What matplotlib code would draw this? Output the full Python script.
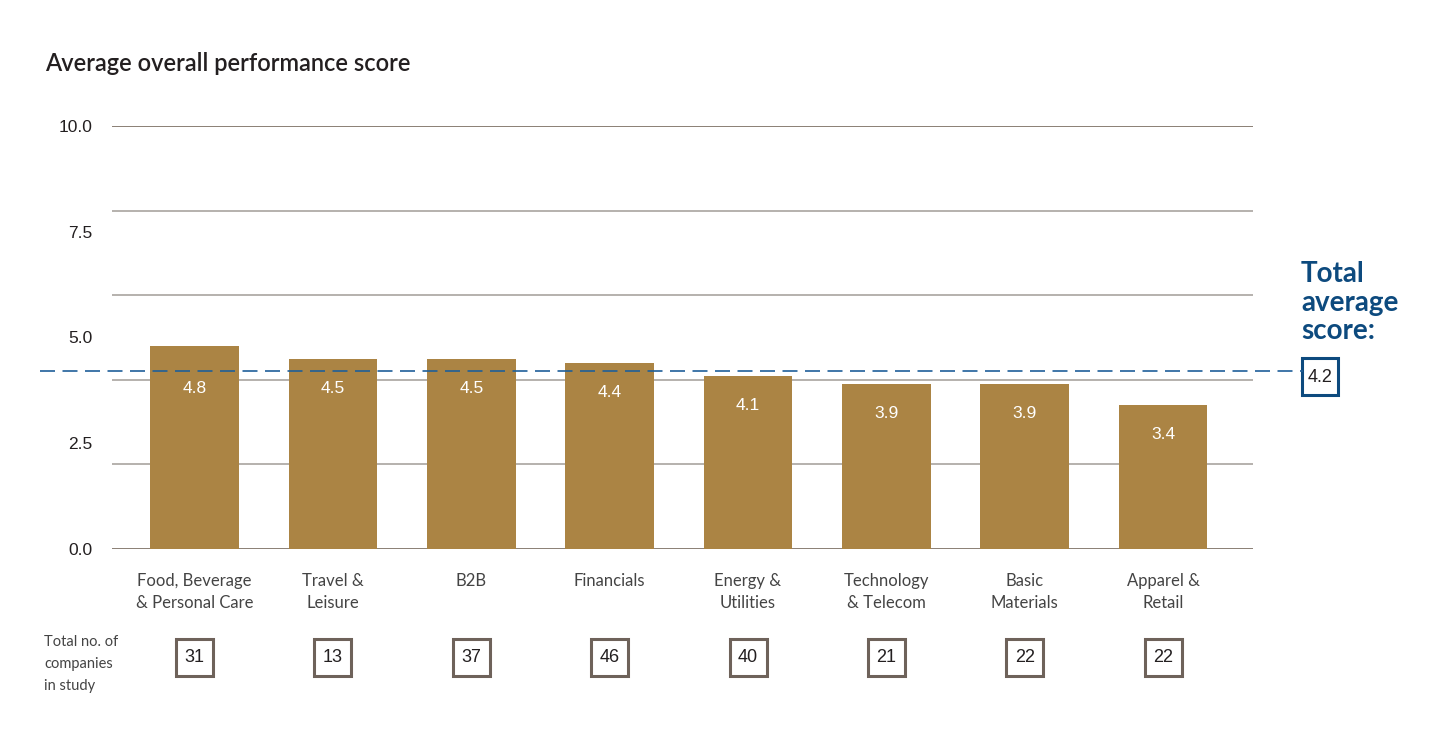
import matplotlib
matplotlib.use("Agg")
import matplotlib.pyplot as plt
from matplotlib.patches import Rectangle
from matplotlib.lines import Line2D
import matplotlib.transforms as mtransforms

plt.rcParams['font.family'] = ['Lato', 'DejaVu Sans']
NUMFONT = ['Liberation Sans', 'DejaVu Sans']

# ---- data ----
categories = [["Food, Beverage", "& Personal Care"], ["Travel &", "Leisure"], ["B2B"],
              ["Financials"], ["Energy &", "Utilities"], ["Technology", "& Telecom"],
              ["Basic", "Materials"], ["Apparel &", "Retail"]]
scores = [4.8, 4.5, 4.5, 4.4, 4.1, 3.9, 3.9, 3.4]
companies = [31, 13, 37, 46, 40, 21, 22, 22]
total_average = 4.2
ytick_values = [0.0, 2.5, 5.0, 7.5, 10.0]
grid_values = [0, 2, 4, 6, 8, 10]

W, H = 1448, 740
fig = plt.figure(figsize=(W / 100, H / 100), dpi=100)
fig.patch.set_facecolor("white")

def fx(px):
    return px / W

def fy(py):
    return 1 - py / H

ax = fig.add_axes([fx(112), fy(549), fx(1253) - fx(112), fy(126) - fy(549)])
ax.set_xlim(-0.597, 7.65)
ax.set_ylim(0, 10)
for s in ax.spines.values():
    s.set_visible(False)
ax.set_xticks([])
ax.set_yticks(ytick_values)
ax.set_yticklabels([f"{v:.1f}" for v in ytick_values], fontsize=12.5, color="#231f20",
                   family=NUMFONT)
ax.tick_params(axis="y", length=0, pad=14)

# gridlines
for g in grid_values:
    col = "#6b5d50" if g in (0, 10) else "#a29c97"
    ax.axhline(g, color=col, lw=1.1, zorder=1)

x = list(range(len(scores)))
bar_color = "#ab8444"
ax.bar(x, scores, width=0.64, color=bar_color, zorder=2)

# value labels
for xi, v in zip(x, scores):
    ax.text(xi, min(v - 0.7, 3.8), f"{v}", ha="center", va="center",
            color="white", fontsize=12.5, family=NUMFONT, zorder=4)

# dashed total average line across figure
blend = mtransforms.blended_transform_factory(fig.transFigure, ax.transData)
ln = Line2D([fx(40), fx(1303)], [total_average, total_average], transform=blend,
            color="#1f5f99", lw=1.2, linestyle=(0, (9, 4.5)), zorder=5)
fig.add_artist(ln)

# category labels and company count boxes
bx = mtransforms.blended_transform_factory(ax.transData, fig.transFigure)
box_w = 37 / ((1253 - 112) / (7.65 + 0.597))
for xi, lines, n in zip(x, categories, companies):
    for k, line in enumerate(lines):
        ax.text(xi, fy(581 + 22 * k), line, transform=bx, ha="center", va="center",
                fontsize=12, color="#444444")
    rect = Rectangle((xi - box_w / 2, fy(676)), box_w, 37 / H, transform=bx,
                     fill=False, edgecolor="#6e625a", lw=2.2, clip_on=False)
    fig.add_artist(rect)
    ax.text(xi, fy(658), str(n), transform=bx, ha="center", va="center",
            fontsize=13, family=NUMFONT, color="#231f20")

# left label
for k, line in enumerate(["Total no. of", "companies", "in study"]):
    fig.text(fx(44), fy(642 + 22 * k), line, ha="left", va="center",
             fontsize=10.5, color="#444444")

# title
fig.text(fx(45), fy(71), "Average overall performance score", ha="left", va="baseline",
         fontsize=17, fontweight="semibold", color="#231f20")

# right side total
blue = "#0d4a7e"
for k, line in enumerate(["Total", "average", "score:"]):
    fig.text(fx(1301), fy(282 + 28.5 * k), line, ha="left", va="baseline",
             fontsize=20, fontweight="bold", color=blue)
fig.add_artist(Rectangle((fx(1302), fy(395)), 36 / W, 37 / H, transform=fig.transFigure,
                         fill=False, edgecolor=blue, lw=2.2))
fig.text(fx(1320), fy(377), f"{total_average}", ha="center", va="center",
         fontsize=13, family=NUMFONT, color="#231f20")

fig.savefig("out.png", dpi=100, facecolor="white")
